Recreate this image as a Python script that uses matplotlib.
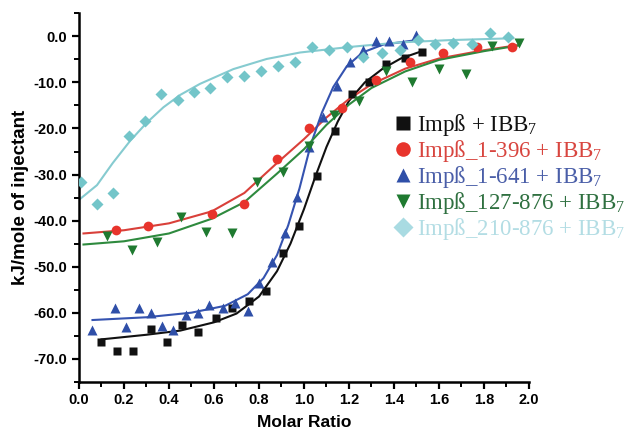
import matplotlib.pyplot as plt
from matplotlib.ticker import MultipleLocator, FormatStrFormatter
from matplotlib.lines import Line2D

# ===================== data =====================
# Impß + IBB7 (black squares)
imp_x = [0.10, 0.17, 0.24, 0.32, 0.39, 0.46, 0.53, 0.61, 0.68, 0.757, 0.83, 0.905,
         0.98, 1.056, 1.136, 1.213, 1.288, 1.364, 1.449, 1.526]
imp_y = [-66.4, -68.3, -68.3, -63.5, -66.4, -62.7, -64.2, -61.2, -59.0, -57.5, -55.3, -47.1,
         -41.2, -30.4, -20.5, -12.5, -10.0, -6.1, -4.6, -3.3]
imp_fx = [0.10, 0.30, 0.45, 0.60, 0.70, 0.80, 0.88, 0.94, 1.00, 1.05, 1.10, 1.15, 1.20,
          1.27, 1.35, 1.43, 1.53]
imp_fy = [-65.8, -64.8, -63.9, -62.1, -60.2, -56.5, -51.0, -45.0, -37.5, -30.5, -24.0,
          -18.5, -14.0, -10.0, -7.0, -4.8, -3.1]

# Impß_1-396 + IBB7 (red circles)
r396_x = [0.165, 0.305, 0.59, 0.735, 0.88, 1.024, 1.17, 1.32, 1.47, 1.62, 1.77, 1.926]
r396_y = [-42.1, -41.2, -38.6, -36.4, -26.7, -19.9, -15.6, -9.5, -5.6, -3.5, -2.2, -2.2]
r396_fx = [0.02, 0.20, 0.40, 0.59, 0.735, 0.88, 1.00, 1.10, 1.20, 1.30, 1.45, 1.60, 1.80, 1.95]
r396_fy = [-42.8, -42.1, -40.6, -38.0, -34.0, -27.5, -22.3, -17.6, -13.6, -10.4, -7.0,
           -4.8, -3.0, -1.9]

# Impß_1-641 + IBB7 (blue triangles)
r641_x = [0.06, 0.16, 0.21, 0.265, 0.32, 0.37, 0.42, 0.475, 0.53, 0.58, 0.64, 0.695, 0.75,
          0.80, 0.86, 0.915, 0.97, 1.024, 1.086, 1.145, 1.204, 1.264, 1.318, 1.378, 1.438, 1.496]
r641_y = [-63.8, -58.9, -63.1, -59.0, -60.0, -62.8, -63.8, -60.6, -60.0, -58.3, -59.0, -57.9,
          -59.6, -53.6, -49.0, -42.8, -34.8, -24.0, -17.6, -10.7, -5.6, -3.0, -1.1, -0.9,
          -1.6, 0.2]
r641_fx = [0.06, 0.30, 0.50, 0.65, 0.75, 0.82, 0.88, 0.93, 0.98, 1.03, 1.08, 1.13, 1.19,
           1.26, 1.35, 1.50]
r641_fy = [-61.6, -61.0, -60.0, -58.5, -56.0, -52.5, -47.5, -41.0, -33.0, -23.5, -16.5,
           -11.0, -6.5, -3.5, -1.8, -0.8]

# Impß_127-876 + IBB7 (green down triangles)
r127_x = [0.126, 0.237, 0.345, 0.453, 0.564, 0.678, 0.79, 0.905, 1.022, 1.135, 1.246, 1.364,
          1.48, 1.60, 1.72, 1.837, 1.957]
r127_y = [-43.3, -46.4, -44.6, -39.2, -42.4, -42.8, -31.7, -29.4, -23.8, -17.1, -14.0, -7.5,
          -10.0, -7.0, -8.2, -2.0, -1.5]
r127_fx = [0.02, 0.20, 0.40, 0.59, 0.735, 0.88, 1.00, 1.10, 1.20, 1.30, 1.45, 1.60, 1.80, 1.95]
r127_fy = [-45.2, -44.5, -42.8, -39.6, -36.0, -29.8, -24.5, -19.2, -14.8, -11.2, -7.6,
           -5.1, -3.2, -2.0]

# Impß_210-876 + IBB7 (cyan diamonds)
r210_x = [0.009, 0.079, 0.152, 0.222, 0.293, 0.364, 0.441, 0.511, 0.584, 0.66, 0.735, 0.809,
          0.886, 0.961, 1.036, 1.11, 1.19, 1.264, 1.345, 1.427, 1.508, 1.582, 1.664, 1.745,
          1.827, 1.908]
r210_y = [-31.6, -36.4, -34.1, -21.7, -18.3, -12.4, -13.8, -12.0, -11.2, -8.9, -8.5, -7.6,
          -6.5, -5.5, -2.3, -3.0, -2.4, -4.4, -3.7, -3.0, -0.8, -1.7, -1.4, -1.7, 0.7, -0.1]
r210_fx = [0.0, 0.08, 0.15, 0.227, 0.30, 0.375, 0.45, 0.538, 0.686, 0.834, 0.982, 1.20,
           1.427, 1.65, 1.93]
r210_fy = [-35.5, -32.3, -27.5, -22.7, -18.8, -15.4, -12.7, -10.3, -7.1, -4.9, -3.5, -2.3,
           -1.3, -0.8, -0.4]

labels = ["Impß + IBB$_\\mathregular{7}$",
          "Impß_1-396 + IBB$_\\mathregular{7}$",
          "Impß_1-641 + IBB$_\\mathregular{7}$",
          "Impß_127-876 + IBB$_\\mathregular{7}$",
          "Impß_210-876 + IBB$_\\mathregular{7}$"]

# ===================== plot =====================
plt.rcParams['font.family'] = ['Liberation Sans', 'DejaVu Sans']

fig = plt.figure(figsize=(6.33, 4.32), dpi=100)
ax = fig.add_axes([0.1248, 0.1164, 0.7109, 0.8526])

series = [
    (imp_x, imp_y, imp_fx, imp_fy, 's', 6.0, '#111111', '#111111'),
    (r396_x, r396_y, r396_fx, r396_fy, 'o', 7.0, '#e8342c', '#d9403a'),
    (r641_x, r641_y, r641_fx, r641_fy, '^', 7.0, '#2f4fa8', '#3553b0'),
    (r127_x, r127_y, r127_fx, r127_fy, 'v', 7.0, '#1f7a30', '#2e8a3e'),
    (r210_x, r210_y, r210_fx, r210_fy, 'D', 6.0, '#73c5c9', '#86cbd0'),
]

for x, y, fx, fy, mk, ms, mc, lc in series:
    ax.plot(fx, fy, color=lc, lw=1.5, zorder=2)
    ax.plot(x, y, linestyle='none', marker=mk, ms=ms, color=mc, mec='none', zorder=3)

ax.set_xlim(0, 2.0)
ax.set_ylim(-75, 5)
ax.spines['top'].set_visible(False)
ax.spines['right'].set_visible(False)
for s in ['left', 'bottom']:
    ax.spines[s].set_linewidth(1.8)

ax.xaxis.set_major_locator(MultipleLocator(0.2))
ax.xaxis.set_minor_locator(MultipleLocator(0.1))
ax.yaxis.set_major_locator(MultipleLocator(10))
ax.yaxis.set_minor_locator(MultipleLocator(5))
ax.xaxis.set_major_formatter(FormatStrFormatter('%.1f'))
ax.yaxis.set_major_formatter(FormatStrFormatter('%.1f'))
ax.tick_params(which='major', direction='out', length=5, width=1.6, labelsize=10.5)
ax.tick_params(which='minor', direction='out', length=3.5, width=1.4)
ax.tick_params(axis='x', which='major', pad=3)
for t in ax.get_xticklabels() + ax.get_yticklabels():
    t.set_fontweight('bold')

ax.set_xlabel("Molar Ratio", fontsize=12.5, fontweight='bold', labelpad=6)
ax.set_ylabel("kJ/mole of injectant", fontsize=13.5, fontweight='bold', labelpad=3)

# legend
leg_mc = ['#111111', '#e8342c', '#2f4fa8', '#1f7a30', '#a9dbe2']
leg_tc = ['#111111', '#d8453f', '#4a5ea8', '#2f7040', '#b3dde4']
leg_mk = ['s', 'o', '^', 'v', 'D']
handles = [Line2D([], [], linestyle='none', marker=m, color=c, mec='none', ms=10.5)
           for m, c in zip(leg_mk, leg_mc)]
leg = fig.legend(handles, labels, loc='upper left', bbox_to_anchor=(0.607, 0.762),
                 frameon=False, handletextpad=0.22, handlelength=0.8, labelspacing=0.0,
                 borderaxespad=0, prop={'family': 'Liberation Serif', 'size': 16.5})
for t, c in zip(leg.get_texts(), leg_tc):
    t.set_color(c)

fig.savefig("out.png", dpi=100)
